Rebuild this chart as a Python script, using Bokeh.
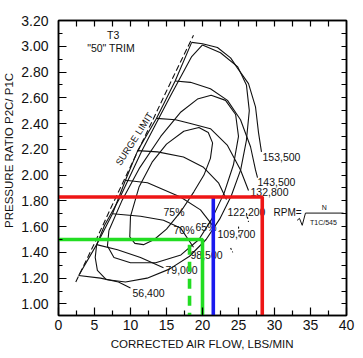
import numpy as np
from bokeh.plotting import figure
from bokeh.models import Range1d, LinearAxis, FixedTicker, PrintfTickFormatter
from bokeh.core.properties import value
from bokeh.embed import file_html
from bokeh.resources import INLINE

FONT = "Liberation Sans"

# ---------------- axes ----------------
x_major = [0, 5, 10, 15, 20, 25, 30, 35, 40]
x_minor = [2.5, 7.5, 12.5, 17.5, 22.5, 27.5, 32.5, 37.5]
x_top = [2.5, 5, 7.5, 10, 12.5, 15, 17.5, 20, 22.5, 25, 27.5, 30, 32.5, 35, 37.5]
y_major = [1.0, 1.2, 1.4, 1.6, 1.8, 2.0, 2.2, 2.4, 2.6, 2.8, 3.0, 3.2]
y_minor = [1.1, 1.3, 1.5, 1.7, 1.9, 2.1, 2.3, 2.5, 2.7, 2.9, 3.1]
y_right = [1.0, 1.1, 1.2, 1.3, 1.4, 1.5, 1.6, 1.7, 1.8, 1.9, 2.0, 2.1, 2.2, 2.3,
           2.4, 2.5, 2.6, 2.7, 2.8, 2.9, 3.0, 3.1]

# ---------------- surge ----------------
surge_dash_x = [2.4, 5.0, 7.4, 10.2, 13.2, 16.0, 18.75]
surge_dash_y = [1.17, 1.47, 1.76, 2.09, 2.44, 2.77, 3.085]

# ---------------- speed lines ----------------
n56400_x = [2.8, 5.83, 8.33, 10.0]
n56400_y = [1.22, 1.20, 1.17, 1.124]
n79000_x = [5.3, 8.19, 11.39, 14.58]
n79000_y = [1.46, 1.42, 1.36, 1.28]
n98500_x = [7.5, 11.39, 14.58, 16.94, 18.75]
n98500_y = [1.70, 1.68, 1.65, 1.59, 1.44]
n109700_x = [9.3, 12.36, 16.94, 19.72, 21.53]
n109700_y = [1.96, 1.94, 1.83, 1.73, 1.60]
n122200_x = [11.0, 13.75, 17.36, 20.14, 22.22, 23.33]
n122200_y = [2.19, 2.18, 2.14, 2.06, 1.94, 1.81]
n132800_x = [13.6, 16.25, 18.33, 21.1, 23.47, 25.28, 26.39]
n132800_y = [2.44, 2.43, 2.40, 2.36, 2.23, 2.04, 1.88]
n143500_x = [16.2, 18.33, 21.1, 23.47, 25.28, 26.67, 27.36, 27.64]
n143500_y = [2.73, 2.72, 2.67, 2.58, 2.43, 2.22, 2.04, 1.98]
n153500_x = [18.5, 20.0, 22.08, 23.9, 24.86, 26.39, 27.36, 27.78, 28.19]
n153500_y = [3.03, 3.02, 2.99, 2.91, 2.83, 2.71, 2.53, 2.33, 2.18]

speed_text = ["153,500", "143,500", "132,800", "122,200", "109,700", "98,500", "79,000", "56,400"]
speed_text_x = [28.33, 27.64, 26.67, 23.47, 22.08, 18.33, 14.86, 10.28]
speed_text_y = [2.14, 1.95, 1.87, 1.71, 1.54, 1.38, 1.26, 1.085]

choke_x = [[26.1, 26.4], [25.0, 25.1], [23.9, 24.2]]
choke_y = [[1.705, 1.636], [1.60, 1.52], [1.434, 1.40]]

# ---------------- efficiency islands ----------------
eff65_x = [20.0, 22.5, 24.9, 26.1, 26.5, 26.1, 25.3, 24.0, 22.4, 20.5, 18.2, 15.4, 12.3,
           9.3, 6.6, 5.4, 5.1, 5.3, 6.4, 8.4, 11.6, 15.6, 18.5, 20.0]
eff65_y = [3.01, 2.95, 2.84, 2.70, 2.50, 2.27, 2.04, 1.84, 1.66, 1.50, 1.37, 1.27, 1.20,
           1.17, 1.19, 1.26, 1.36, 1.46, 1.61, 1.81, 2.19, 2.62, 2.92, 3.01]
eff70_x = [7.0, 8.8, 11.2, 14.2, 17.0, 19.3, 21.2, 23.2, 24.6, 25.0, 24.3, 23.0, 21.3,
           19.5, 17.0, 13.5, 10.0, 7.7, 6.8, 7.0]
eff70_y = [1.57, 1.80, 2.05, 2.30, 2.49, 2.59, 2.62, 2.58, 2.47, 2.30, 2.08, 1.86, 1.66,
           1.50, 1.38, 1.32, 1.32, 1.36, 1.45, 1.57]
eff75_x = [9.9, 10.0, 11.2, 13.0, 15.0, 17.4, 19.5, 20.8, 21.4, 21.1, 20.2, 18.8, 16.9,
           15.0, 13.3, 11.8, 10.6, 9.9]
eff75_y = [1.52, 1.68, 1.91, 2.10, 2.24, 2.34, 2.37, 2.33, 2.25, 2.13, 2.00, 1.87, 1.71,
           1.58, 1.50, 1.46, 1.47, 1.52]

eff_text = ["75%", "70%", "65%"]
eff_text_x = [14.58, 15.97, 19.03]
eff_text_y = [1.71, 1.57, 1.60]

# ---------------- operating lines ----------------
red_x = [0, 28.3, 28.3]
red_y = [1.83, 1.83, 0.91]
blue_x = [21.5, 21.5]
blue_y = [1.83, 0.91]
green_x = [0, 20.0, 20.0]
green_y = [1.50, 1.50, 0.91]
green_dash_x = [18.2, 18.2]
green_dash_y = [1.46, 0.91]

# formula
sqrt_x = [33.15, 33.47, 33.85, 34.3, 39.58]
sqrt_y = [1.649, 1.664, 1.61, 1.705, 1.705]

p = figure(width=363, height=358, x_range=Range1d(0, 40), y_range=Range1d(0.91, 3.2),
           output_backend="svg", toolbar_location=None,
           x_axis_type=None, y_axis_type=None,
           min_border_left=58, min_border_right=17, min_border_top=20, min_border_bottom=43)
p.outline_line_color = "black"
p.outline_line_width = 1.5
p.background_fill_color = "white"
p.border_fill_color = "white"


def style(ax, major_in, minor_in):
    ax.major_tick_in = major_in
    ax.major_tick_out = 0
    ax.minor_tick_in = minor_in
    ax.minor_tick_out = 0
    ax.axis_line_width = 1.5
    ax.axis_line_color = "black"
    ax.major_tick_line_width = 1.2
    ax.minor_tick_line_width = 1.2
    ax.major_tick_line_color = "black"
    ax.minor_tick_line_color = "black"
    ax.major_label_text_font = FONT
    ax.major_label_text_color = "#111111"
    ax.axis_label_text_font = FONT
    ax.axis_label_text_font_style = "normal"
    ax.axis_label_text_color = "#111111"
    ax.axis_label_text_font_size = "11.5px"


xb = LinearAxis(ticker=FixedTicker(ticks=x_major, minor_ticks=x_minor),
                axis_label="CORRECTED AIR FLOW, LBS/MIN")
style(xb, 8, 5)
xb.major_label_text_font_size = "14px"
xb.major_label_standoff = 4
xb.axis_label_standoff = 5
p.add_layout(xb, "below")

yl = LinearAxis(ticker=FixedTicker(ticks=y_major, minor_ticks=y_minor),
                formatter=PrintfTickFormatter(format="%.2f"),
                axis_label="\u00a0" * 11 + "PRESSURE RATIO P2C/ P1C")
style(yl, 8, 4)
yl.major_label_text_font_size = "14px"
yl.major_label_standoff = 10
yl.axis_label_standoff = 3
p.add_layout(yl, "left")

xt = LinearAxis(ticker=FixedTicker(ticks=x_top, minor_ticks=[]))
style(xt, 6, 0)
xt.major_label_text_font_size = "1px"
xt.major_label_text_color = None
xt.major_label_standoff = 0
p.add_layout(xt, "above")

yr = LinearAxis(ticker=FixedTicker(ticks=y_right, minor_ticks=[]))
style(yr, 5, 0)
yr.major_label_text_font_size = "1px"
yr.major_label_text_color = None
yr.major_label_standoff = 0
p.add_layout(yr, "right")

LC = "#111111"
LW = 1.1
p.line(surge_dash_x, surge_dash_y, line_color=LC, line_width=LW, line_dash="6 3")
start_x = [n56400_x[0], n79000_x[0], n98500_x[0], n109700_x[0], n122200_x[0],
           n132800_x[0], n143500_x[0], n153500_x[0]]
start_y = [n56400_y[0], n79000_y[0], n98500_y[0], n109700_y[0], n122200_y[0],
           n132800_y[0], n143500_y[0], n153500_y[0]]
p.line(start_x, start_y, line_color=LC, line_width=LW)
for xs, ys in [(n56400_x, n56400_y), (n79000_x, n79000_y), (n98500_x, n98500_y),
               (n109700_x, n109700_y), (n122200_x, n122200_y), (n132800_x, n132800_y),
               (n143500_x, n143500_y), (n153500_x, n153500_y)]:
    p.line(xs, ys, line_color=LC, line_width=LW)
p.multi_line(choke_x, choke_y, line_color=LC, line_width=LW, line_dash="2 2")
for xs, ys in [(eff65_x, eff65_y), (eff70_x, eff70_y), (eff75_x, eff75_y)]:
    p.line(xs, ys, line_color=LC, line_width=LW)

p.text(x=speed_text_x, y=speed_text_y, text=speed_text, text_align="left",
       text_baseline="middle", text_font=value(FONT), text_font_size="10.5px", text_color=LC)
p.text(x=eff_text_x, y=eff_text_y, text=eff_text, text_align="left",
       text_baseline="middle", text_font=value(FONT), text_font_size="10.5px", text_color=LC)
p.text(x=[7.6, 7.5], y=[3.085, 2.984], text=["T3", "\"50\"  TRIM"], text_align="center",
       text_baseline="middle", text_font=value(FONT), text_font_size="10.5px", text_color=LC)
p.text(x=[10.6], y=[2.29], text=["SURGE  LIMIT"], angle=1.0, text_align="center",
       text_baseline="middle", text_font=value(FONT), text_font_size="9.5px", text_color=LC)
# formula
p.text(x=[29.86], y=[1.71], text=["RPM="], text_align="left", text_baseline="middle",
       text_font=value(FONT), text_font_size="10px", text_color=LC)
p.text(x=[36.9], y=[1.745], text=["N"], text_align="center", text_baseline="middle",
       text_font=value(FONT), text_font_size="7px", text_color=LC)
p.text(x=[36.8], y=[1.635], text=["T1C/545"], text_align="center", text_baseline="middle",
       text_font=value(FONT), text_font_size="7px", text_color=LC)
p.line(sqrt_x, sqrt_y, line_color=LC, line_width=1)

# operating lines
p.line(green_x, green_y, line_color="#22dd22", line_width=3.6)
p.line(green_dash_x, green_dash_y, line_color="#22dd22", line_width=3.6, line_dash="10 7")
p.line(blue_x, blue_y, line_color="#1a1aee", line_width=3.6)
p.line(red_x, red_y, line_color="#ee1616", line_width=3.6)

open("out.html", "w").write(file_html(p, INLINE))
